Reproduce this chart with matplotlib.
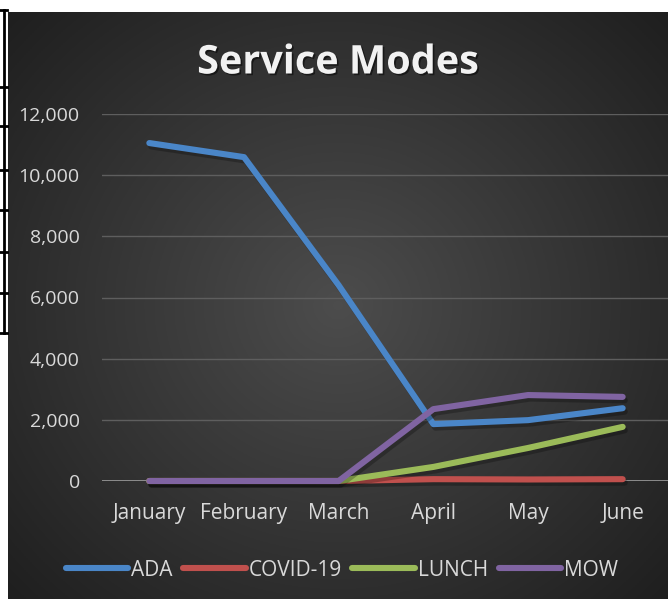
import numpy as np
import matplotlib
matplotlib.use("Agg")
import matplotlib.pyplot as plt
import matplotlib.patheffects as pe
from matplotlib.lines import Line2D

# data
months = ["January", "February", "March", "April", "May", "June"]
ada = [11050, 10590, 6400, 1860, 1990, 2380]
covid = [0, 0, 0, 60, 50, 60]
lunch = [0, 0, 0, 460, 1080, 1770]
mow = [0, 0, 0, 2350, 2810, 2750]

series_names = ["ADA", "COVID-19", "LUNCH", "MOW"]
colors = ["#4a86c8", "#c0504d", "#9bbb59", "#8064a2"]

plt.rcParams["font.family"] = ["Open Sans", "DejaVu Sans"]

W, H = 668, 599
fig = plt.figure(figsize=(W / 100, H / 100), dpi=100)
fig.patch.set_facecolor("white")

# dark radial gradient background of the chart area
bg = fig.add_axes([8 / W, 0, (W - 8) / W, (H - 12) / H])
yy, xx = np.mgrid[0:1:300j, 0:1:300j]
r = np.sqrt((xx - 0.5) ** 2 + ((yy - 0.5) * 0.95) ** 2)
g = np.clip(0.30 - 0.26 * r, 0.1, 1)
bg.imshow(np.dstack([g, g, g]), aspect="auto", extent=[0, 1, 0, 1], origin="lower")
bg.axis("off")

# leftover table borders on the left edge
fig.add_artist(Line2D([3.5 / W, 3.5 / W], [1 - 10 / H, 1 - 333 / H],
                      color="black", lw=2))
for y in [10, 87, 126, 170, 210, 252, 293, 333]:
    fig.add_artist(Line2D([0, 7 / W], [1 - y / H, 1 - y / H], color="black", lw=2))

ax = fig.add_axes([102 / W, (H - 481) / H, 568 / W, 367 / H])
ax.set_facecolor("none")
x = np.arange(len(months))
shadow = [pe.SimpleLineShadow(offset=(1.5, -2.5), alpha=0.25, shadow_color="black"),
          pe.Normal()]
for vals, name, c in zip([ada, covid, lunch, mow], series_names, colors):
    ax.plot(x, vals, color=c, lw=4.4, label=name, solid_capstyle="round",
            solid_joinstyle="round", clip_on=False, path_effects=shadow, zorder=3)

ax.set_xlim(-0.5, 5.5)
ax.set_ylim(0, 12000)
ax.set_yticks(range(0, 12001, 2000))
ax.set_yticklabels([f"{v:,}" for v in range(0, 12001, 2000)])
ax.set_xticks(x)
ax.set_xticklabels(months)
ax.grid(axis="y", color="#5e5e5e", lw=1.0)
ax.axhline(0, color="#a6a6a6", lw=1.8, zorder=2)
for s in ax.spines.values():
    s.set_visible(False)
ax.tick_params(axis="y", length=0, pad=16, labelcolor="#d9d9d9", labelsize=14)
ax.tick_params(axis="x", length=0, pad=16, labelcolor="#d9d9d9", labelsize=15)

fig.text(338 / W, 1 - 63 / H, "Service Modes", ha="center", va="center",
         fontsize=28.5, fontweight="bold", color="#f2f2f2",
         path_effects=[pe.withSimplePatchShadow(offset=(1.2, -1.2), alpha=0.5,
                                                shadow_rgbFace="black")])

handles = [Line2D([], [], color=c, lw=4.4, solid_capstyle="round") for c in colors]
leg = fig.legend(handles, series_names, loc="center", ncol=4,
                 bbox_to_anchor=(342 / W, 1 - 570 / H), frameon=False,
                 fontsize=15, handlelength=3.0, handletextpad=0.15,
                 columnspacing=0.5, labelcolor="#d9d9d9")

fig.savefig("out.png", dpi=100)
